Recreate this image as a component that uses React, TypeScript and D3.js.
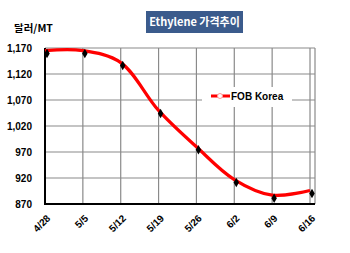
import React from "react";
import * as d3 from "d3";

const categories = ["4/28", "5/5", "5/12", "5/19", "5/26", "6/2", "6/9", "6/16"];
const fobKorea = [1165, 1165, 1142, 1050, 980, 917, 887, 896];
const yTicks = [870, 920, 970, 1020, 1070, 1120, 1170];
const seriesName = "FOB Korea";
const title = "Ethylene 가격추이";
const unitLabel = "달러/MT";

export default function App() {
  const W = 350, H = 253;
  const left = 45, right = 315, top = 48, bottom = 204;
  const x = d3.scalePoint<string>().domain(categories).range([left, 310]);
  const y = d3.scaleLinear().domain([870, 1170]).range([bottom, top]);
  const pts: [number, number][] = categories.map((c, i) => [x(c)!, y(fobKorea[i])]);
  const line = d3.line().curve(d3.curveCatmullRom.alpha(0.5))(pts) || "";
  const font = "Arial, 'Liberation Sans', sans-serif";
  const korFont = "'Noto Sans CJK KR', 'Noto Sans', sans-serif";
  return (
    <svg width={W} height={H} style={{ position: "absolute", left: 0, top: 0, background: "#fff" }}>
      <rect x={0} y={0} width={W} height={H} fill="#fff" />
      {/* title */}
      <rect x={146} y={11} width={97} height={22} fill="#3b5b8c" />
      <text x={194.5} y={26} textAnchor="middle" fill="#fff" fontFamily={korFont} fontSize={11} fontWeight="bold">{title}</text>
      <text x={14} y={32} fontFamily={korFont} fontSize={10.5} fontWeight="bold" fill="#000">{unitLabel}</text>
      {/* grid */}
      {yTicks.map((t) => (
        <line key={"h" + t} x1={left} x2={right} y1={y(t)} y2={y(t)} stroke="#8a8a8a" strokeWidth={1.2} />
      ))}
      {categories.map((c) => (
        <line key={"v" + c} x1={x(c)!} x2={x(c)!} y1={top} y2={bottom} stroke="#8a8a8a" strokeWidth={1.2} />
      ))}
      <line x1={right} x2={right} y1={top} y2={bottom} stroke="#8a8a8a" strokeWidth={1.2} />
      {/* legend box */}
      <rect x={202} y={87} width={90} height={20} fill="#fff" />
      <line x1={211} x2={230} y1={96} y2={96} stroke="#ff0000" strokeWidth={3} />
      <circle cx={220} cy={96} r={2.5} fill="#fff" stroke="#ff9999" strokeWidth={1} />
      <text x={231} y={99.5} fontFamily={font} fontSize={10} fontWeight="bold" fill="#000">{seriesName}</text>
      {/* axes */}
      <line x1={left} x2={left} y1={top} y2={bottom + 1} stroke="#000" strokeWidth={2} />
      <line x1={left - 1} x2={right} y1={bottom} y2={bottom} stroke="#000" strokeWidth={2} />
      {yTicks.map((t) => (
        <text key={"yl" + t} x={32} y={y(t) + 3.5} textAnchor="end" fontFamily={font} fontSize={10} fontWeight="bold" fill="#000">
          {d3.format(",")(t)}
        </text>
      ))}
      {categories.map((c) => (
        <text key={"xl" + c} transform={`translate(${x(c)! + 6},${219}) rotate(-45)`} textAnchor="end" fontFamily={font} fontSize={10} fontWeight="bold" fill="#000">
          {c}
        </text>
      ))}
      {/* series */}
      <path d={line} fill="none" stroke="#ff0000" strokeWidth={3.2} />
      {pts.map(([px, py], i) => (
        <path key={"m" + i} d={d3.symbol(d3.symbolDiamond, 26)() || ""} transform={`translate(${px + 2},${py + 3})`} fill="#000" />
      ))}
    </svg>
  );
}
